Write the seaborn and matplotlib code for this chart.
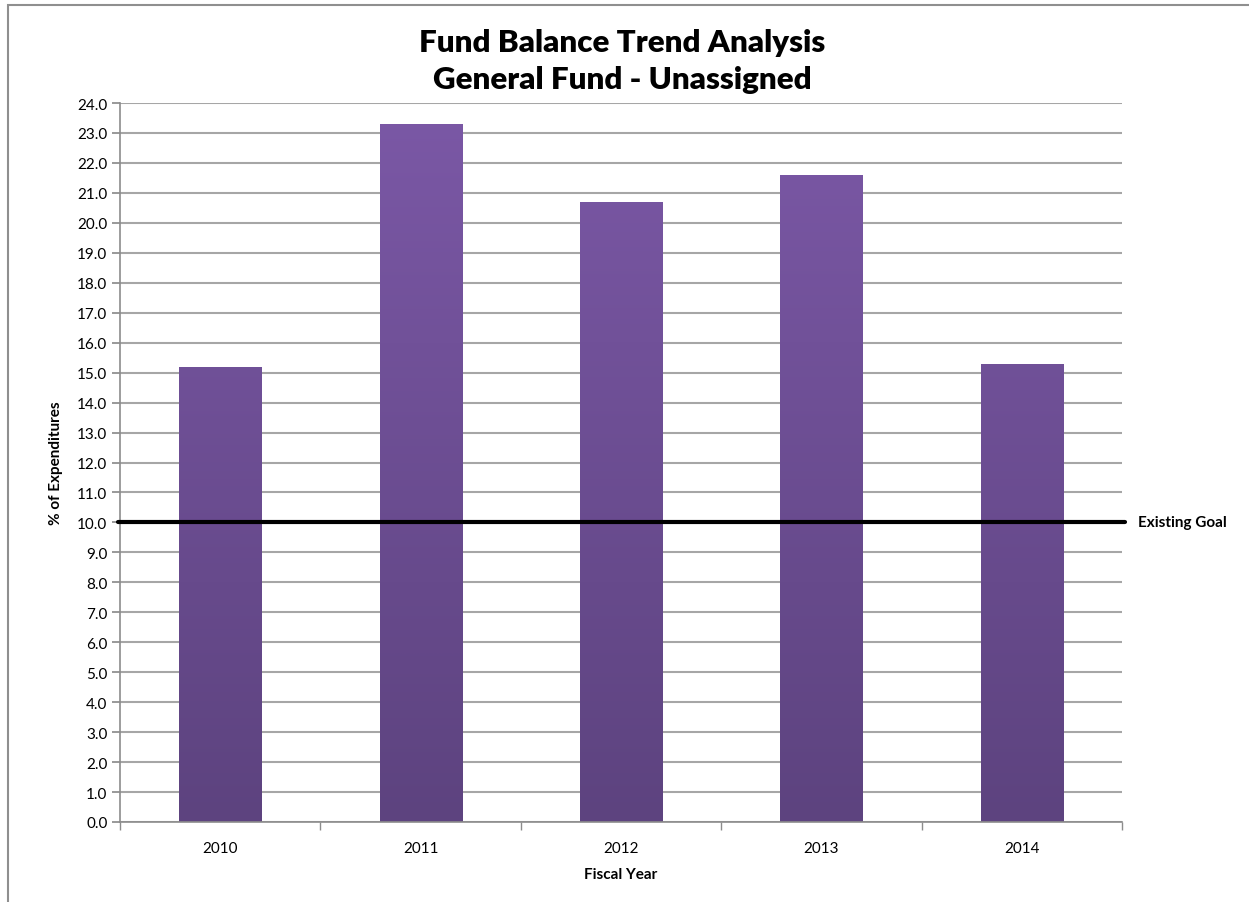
import numpy as np
import pandas as pd
import seaborn as sns
import matplotlib.pyplot as plt
from matplotlib.colors import LinearSegmentedColormap
from matplotlib.patches import Rectangle

years = ["2010", "2011", "2012", "2013", "2014"]
pct_expenditures = [15.2, 23.3, 20.7, 21.6, 15.3]
goal = 10.0
goal_label = "Existing Goal"

sns.set_theme(style="white")
plt.rcParams["font.family"] = ["Lato", "DejaVu Sans"]
plt.rcParams["text.color"] = "black"
plt.rcParams["xtick.labelcolor"] = "black"
plt.rcParams["ytick.labelcolor"] = "black"
plt.rcParams["axes.labelcolor"] = "black"

df = pd.DataFrame({"Fiscal Year": years, "Pct": pct_expenditures})

fig = plt.figure(figsize=(12.49, 9.03), dpi=100)
ax = fig.add_axes([0.0961, 0.0886, 0.8022, 0.7962])

# outer chart border (only top and left visible in the crop)
fig.add_artist(Rectangle((0.0065, -0.05), 1.1, 1.043, transform=fig.transFigure,
                         fill=False, edgecolor="#8f8f8f", lw=1.5))

ax.set_axisbelow(True)
ax.yaxis.grid(True, color="#a6a6a6", lw=1.5)

sns.barplot(data=df, x="Fiscal Year", y="Pct", color="#7b58a6", width=0.41,
            saturation=1, ax=ax, zorder=2)

# vertical gradient: lighter at top, darker at bottom
cmap = LinearSegmentedColormap.from_list("purp", ["#5d437f", "#7b58a6"])
grad = np.linspace(0, 1, 256).reshape(-1, 1)
for p in ax.patches:
    x0, w, h = p.get_x(), p.get_width(), p.get_height()
    im = ax.imshow(grad, cmap=cmap, aspect="auto", origin="lower",
                   extent=[x0, x0 + w, 0, 24], zorder=2.5)
    im.set_clip_path(p)
    p.set_edgecolor("none")

ax.set_xlim(-0.5, 4.5)
ax.set_ylim(0, 24)
ax.set_yticks(np.arange(0, 25, 1))
ax.set_yticklabels([f"{v:.1f}" for v in np.arange(0, 25, 1)], fontsize=11)
ax.tick_params(axis="y", which="major", direction="out", length=6, color="#8c8c8c",
               left=True, pad=3)
ax.set_xticks(range(len(years)))
ax.set_xticklabels(years, fontsize=11)
ax.set_xticks(np.arange(-0.5, 5, 1), minor=True)
ax.tick_params(axis="x", which="major", length=0, pad=14)
ax.tick_params(axis="x", which="minor", direction="out", length=6, color="#8c8c8c",
               bottom=True)

for s in ["top", "right"]:
    ax.spines[s].set_visible(False)
for s in ["left", "bottom"]:
    ax.spines[s].set_color("#8c8c8c")
    ax.spines[s].set_linewidth(1.2)

ax.plot([-0.51, 4.515], [goal, goal], color="black", lw=3, clip_on=False, zorder=4)
ax.text(4.58, goal, goal_label, fontsize=11, fontweight="bold", va="center",
        ha="left", clip_on=False)

ax.set_xlabel("Fiscal Year", fontsize=11, fontweight="bold", labelpad=8)
ax.set_ylabel("% of Expenditures", fontsize=11, fontweight="bold", labelpad=10)

fig.text(0.498, 0.932, "Fund Balance Trend Analysis\nGeneral Fund - Unassigned",
         ha="center", va="center", fontsize=22.5, fontweight="heavy", linespacing=1.4)

fig.savefig("out.png", dpi=100)
